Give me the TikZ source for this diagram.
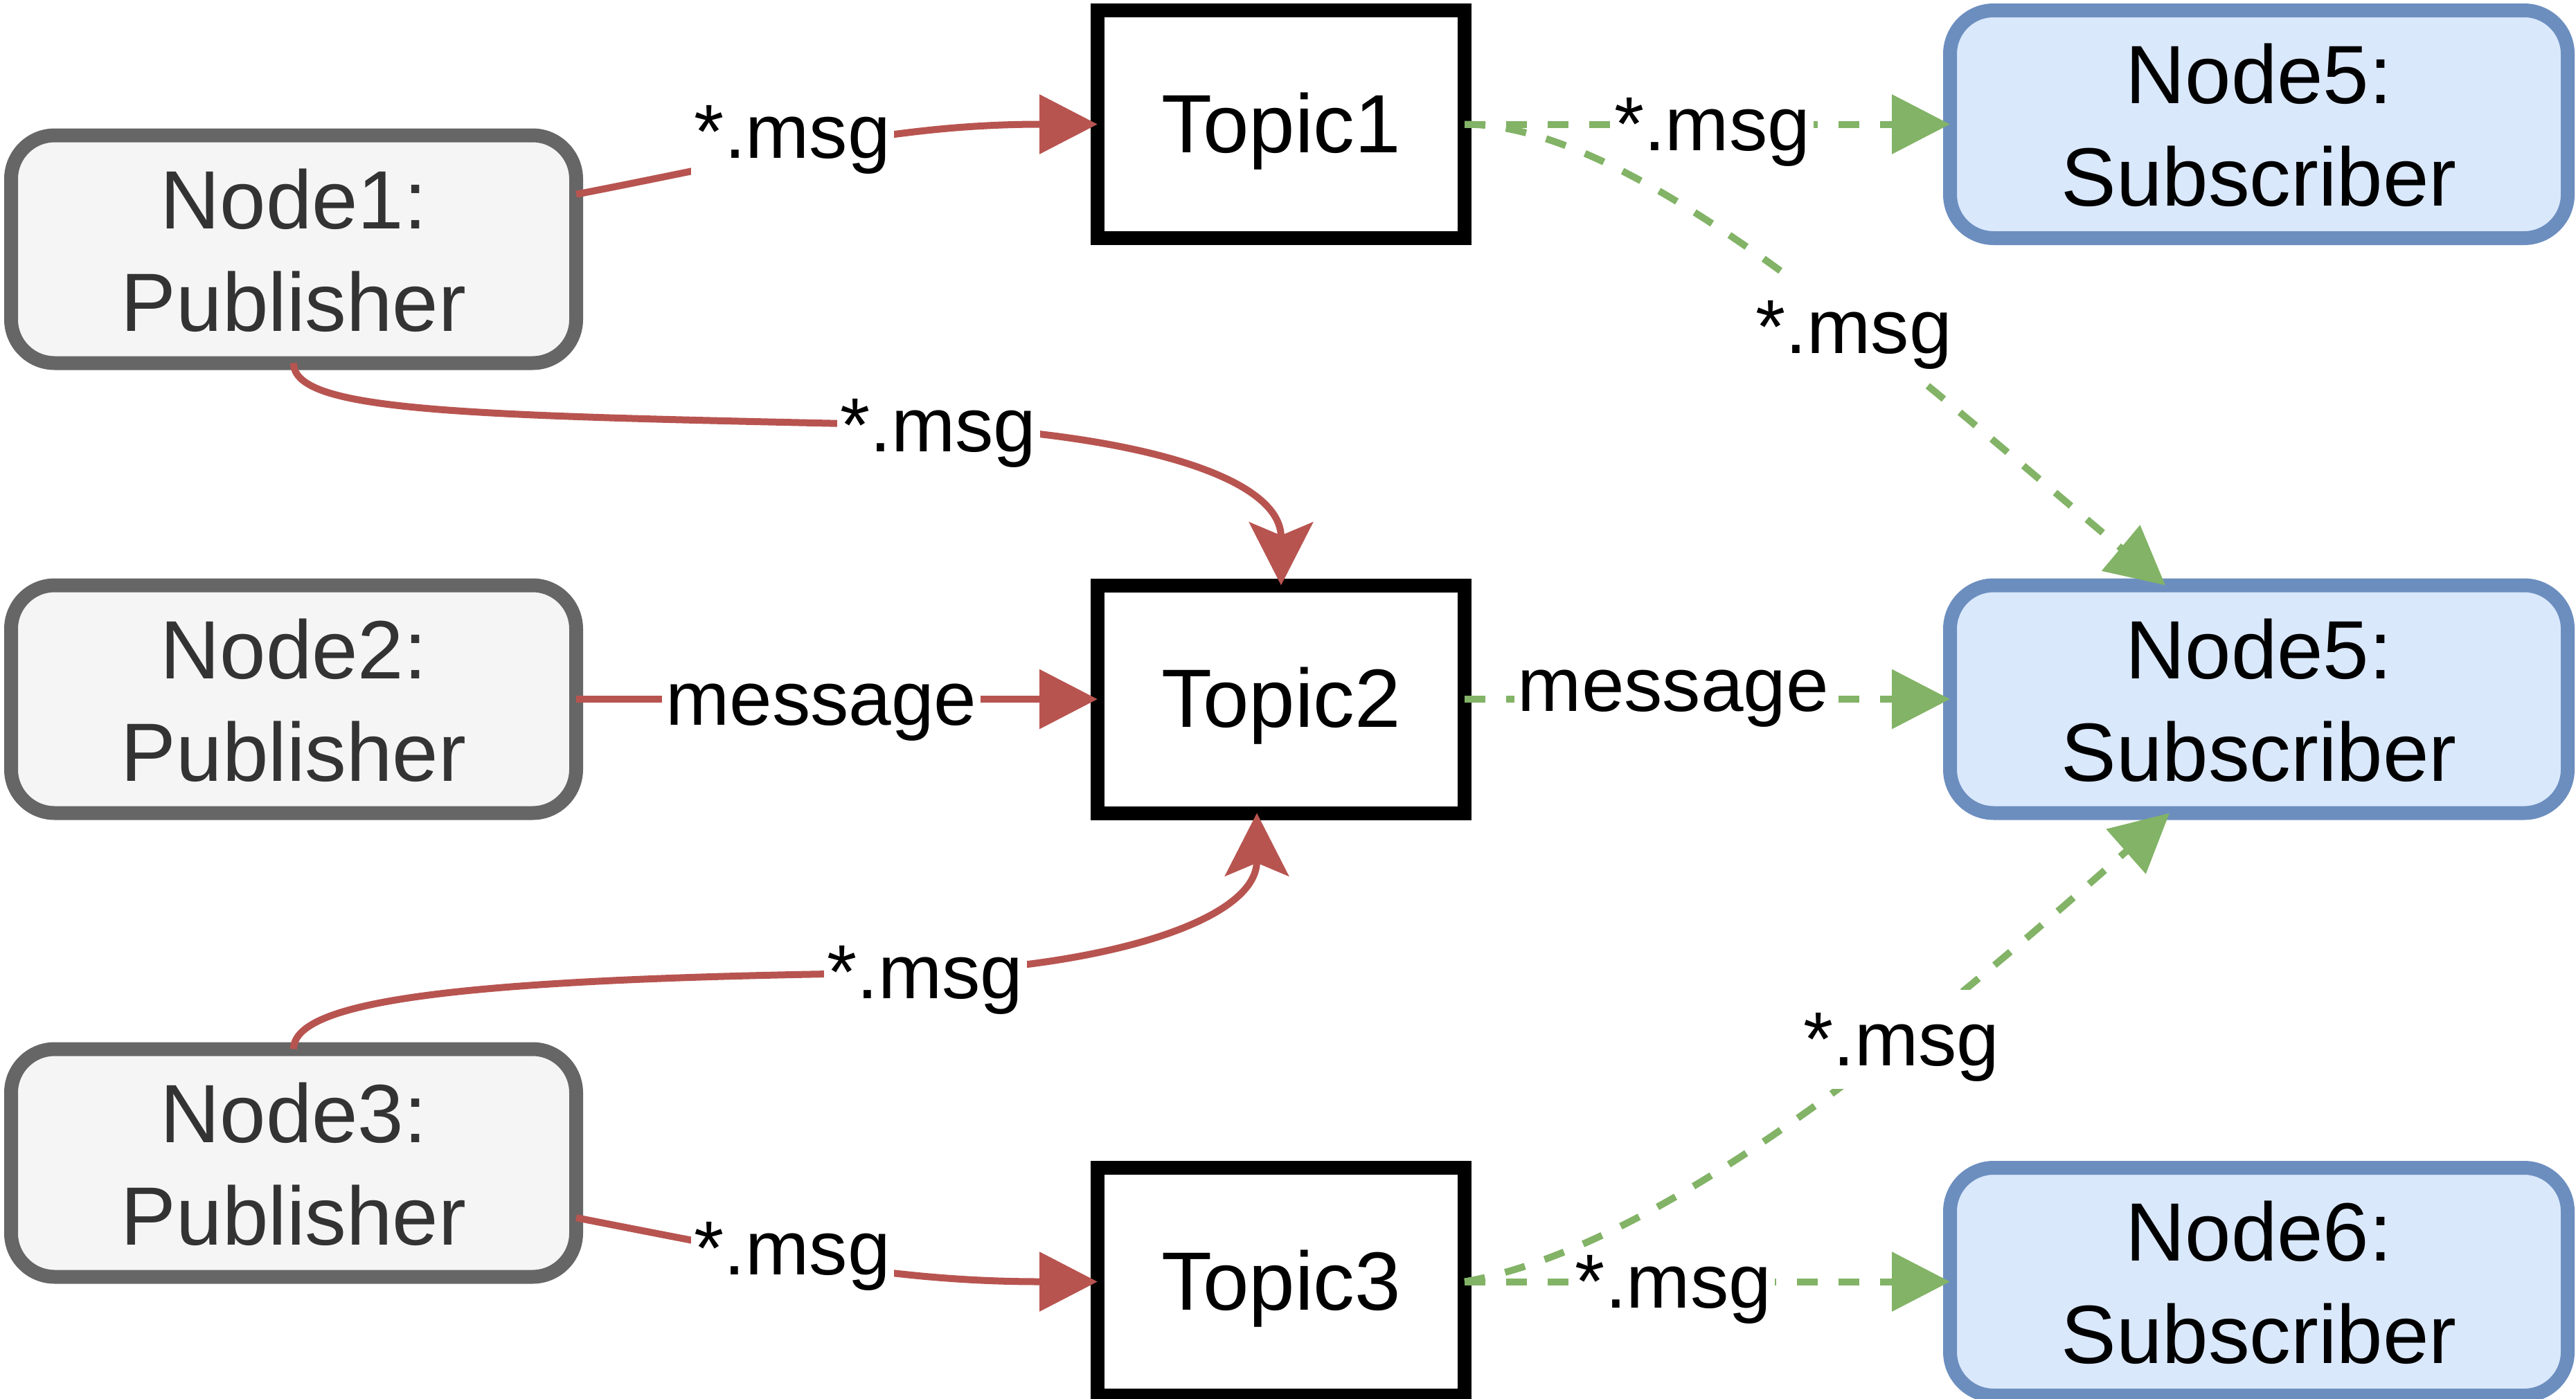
\documentclass[tikz,border=0pt]{standalone}
\usepackage{fontspec}
\setmainfont{Liberation Sans}
\usetikzlibrary{arrows.meta}
\usetikzlibrary{positioning}

\definecolor{pubfill}{HTML}{F5F5F5}
\definecolor{publine}{HTML}{666666}
\definecolor{pubtext}{HTML}{333333}
\definecolor{subfill}{HTML}{DAE8FC}
\definecolor{subline}{HTML}{6C8EBF}
\definecolor{sendred}{HTML}{B85450}
\definecolor{recvgreen}{HTML}{82B366}

\newcommand{\boxstrut}{\rule[-0.26em]{0pt}{1.2em}}
\newcommand{\tallstrut}{\rule[-0.26em]{0pt}{2.5em}}

\tikzset{
  diagbox/.style={line width=2mm, inner sep=0pt, outer sep=0pt, minimum height=3.29cm, align=center,
    font=\fontsize{34}{42.1}\selectfont, execute at begin node=\boxstrut, execute at end node=\boxstrut},
  pubnode/.style={diagbox, draw=publine, fill=pubfill, text=pubtext, rounded corners=6.3mm, minimum width=8.16cm,
    execute at begin node=\tallstrut},
  topicnode/.style={diagbox, draw=black, fill=white, minimum width=5.30cm},
  subnode/.style={diagbox, draw=subline, fill=subfill, rounded corners=6.3mm, minimum width=8.92cm,
    execute at begin node=\tallstrut},
  lbl/.style={fill=white, inner sep=0.5mm, font=\fontsize{31.5}{38}\selectfont, execute at begin node=\boxstrut},
  pubedge/.style={draw=sendred, line width=1mm},
  subedge/.style={draw=recvgreen, line width=1mm, dash pattern=on 3mm off 3mm},
  blocktip/.style={-{Triangle[length=8.4mm,width=8.4mm]}},
  classictip/.style={-{Stealth[length=9.1mm,width=9.2mm,inset=1.9mm]}},
}

\begin{document}
\begin{tikzpicture}
  \path[fill=white, use as bounding box] (0,0) rectangle (37.2,-20.2);

  \node[pubnode] (pub2) at (4.24,-10.10) {Node2:\\Publisher};
  \node[pubnode] (pub1) [above=3.21cm of pub2] {Node1:\\Publisher};
  \node[pubnode] (pub3) [below=3.41cm of pub2] {Node3:\\Publisher};

  \node[topicnode] (topic2) [right=7.53cm of pub2] {Topic2};
  \node[topicnode] (topic1) [above=5.015cm of topic2] {Topic1};
  \node[topicnode] (topic3) [below=5.125cm of topic2] {Topic3};

  \node[subnode] (sub2) [right=7.01cm of topic2] {Node5:\\Subscriber};
  \node[subnode] (sub1) [above=5.015cm of sub2] {Node5:\\Subscriber};
  \node[subnode] (sub3) [below=5.125cm of sub2] {Node6:\\Subscriber};

  \coordinate (bend2) at (13.55,-6.15);
  \coordinate (bend4) at (13.36,-14.05);

  % publishers -> topics
  \draw[pubedge, blocktip] (pub1) to[out=11, in=180] node[lbl, pos=0.41, yshift=2.8mm] {*.msg} (topic1);
  \draw[pubedge, classictip] (pub1.south) .. controls +(0,-0.75) and +(-6.55,0.15) .. (bend2) node[lbl] {*.msg}
    .. controls +(2.95,-0.15) and +(0,1.55) .. (topic2.north);
  \draw[pubedge, blocktip] (pub2) -- node[lbl, pos=0.47] {message} (topic2);
  \draw[pubedge, classictip] (pub3.north) .. controls +(0,0.75) and +(-6.36,-0.07) .. (bend4) node[lbl] {*.msg}
    .. controls +(2.64,0.10) and +(0,-1.55) .. ([xshift=-3.5mm]topic2.south);
  \draw[pubedge, blocktip] (pub3) to[out=-11, in=180] node[lbl, pos=0.41, yshift=1.3mm] {*.msg} (topic3);

  % topics -> subscribers
  \draw[subedge, blocktip] (topic1) -- node[lbl, pos=0.51] {*.msg} (sub1);
  \draw[subedge, blocktip] (topic1.east) .. controls +(2.5,0) and +(-3.83,3.21) .. ([xshift=-13.5mm]sub2.north)
    node[lbl, pos=0.6] {*.msg};
  \draw[subedge, blocktip] (topic2) -- node[lbl, pos=0.43, yshift=2mm] {message} (sub2);
  \draw[subedge, blocktip] (topic3) -- node[lbl, pos=0.43] {*.msg} (sub3);
  \draw[subedge, blocktip] (topic3.east) .. controls +(2.95,0.52) and +(-3.37,-2.98) .. ([xshift=-12.9mm]sub2.south)
    node[lbl, pos=0.63] {*.msg};
\end{tikzpicture}
\end{document}
